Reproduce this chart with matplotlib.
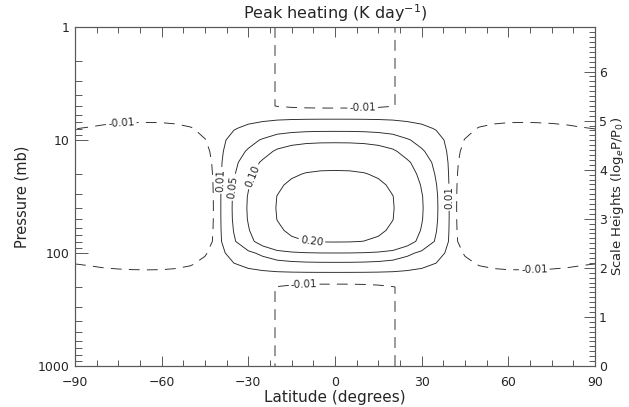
import numpy as np
import matplotlib
matplotlib.use('Agg')
import matplotlib.pyplot as plt
from matplotlib.ticker import FixedLocator, MultipleLocator, NullFormatter

# Latitude grid (degrees) and pressure levels (mb)
lat = np.array([-90, -85, -80, -75, -70, -65, -60, -55, -50, -45, -40, -35, -30,
                -25, -20, -15, -10, -5, 0, 5, 10, 15, 20, 25, 30, 35, 40, 45,
                50, 55, 60, 65, 70, 75, 80, 85, 90])
pres = np.array([1.0, 1.26, 1.58, 2.0, 2.5, 3.2, 4.0, 5.0, 6.3, 7.9, 10, 12.6,
                 15.8, 20, 25, 31.6, 40, 50, 63, 79, 100, 126, 158, 200, 251,
                 316, 398, 501, 631, 794, 1000])

# latitudinal shape of the heating anomaly
lat_shape = np.array([-0.25, -0.30, -0.38, -0.45, -0.50, -0.52, -0.50, -0.42, -0.30,
                      -0.12, 0.02, 0.22, 0.41, 0.60, 0.80, 0.91, 0.97, 0.995, 1.0,
                      0.995, 0.97, 0.91, 0.80, 0.60, 0.41, 0.22, 0.02, -0.12,
                      -0.30, -0.42, -0.50, -0.52, -0.50, -0.45, -0.38, -0.30, -0.25])
# vertical profile (K/day at the equator)
pres_shape = np.array([-0.013, -0.013, -0.013, -0.013, -0.013, -0.013, -0.013, -0.013,
                       0.005, 0.038, 0.090, 0.135, 0.180, 0.210, 0.235, 0.252, 0.256,
                       0.252, 0.235, 0.205, 0.100, 0.038, -0.002, -0.013,
                       -0.013, -0.013, -0.013, -0.013, -0.013, -0.013, -0.013])

levels = [-0.01, 0.01, 0.05, 0.10, 0.20]
label_fmt = {-0.01: '-0.01', 0.01: '0.01', 0.05: '0.05', 0.10: '0.10', 0.20: '0.20'}
label_pos = [(-74, 7.1), (9.6, 5.4), (-40, 22.6), (-35.6, 26), (-28.4, 21),
             (40, 32), (-8, 74), (69, 143), (-10.7, 183)]

heating = np.outer(pres_shape, lat_shape)

txt = '0.15'
plt.rcParams['text.color'] = txt
plt.rcParams['xtick.labelcolor'] = txt
plt.rcParams['ytick.labelcolor'] = txt
plt.rcParams['axes.labelcolor'] = txt

fig = plt.figure(figsize=(6.29, 4.07), dpi=100)
ax = fig.add_axes([75/629, 41/407, 520/629, 339/407])

# axes set up first so the contour labels are placed in screen space
ax.set_yscale('log')
ax.set_ylim(1000, 1)
ax.set_xlim(-90, 90)

cs = ax.contour(lat, pres, heating, levels=levels, colors='0.15',
                linewidths=0.65,
                linestyles=[(0, (12, 8)), 'solid', 'solid', 'solid', 'solid'])
ax.set_ylim(1000, 1)
ax.set_xlim(-90, 90)
labels = ax.clabel(cs, levels, fmt=label_fmt, manual=label_pos, inline=True,
                   inline_spacing=2, fontsize=7.5)
# vertical labels read bottom to top, as in the original
for t in labels:
    if abs(t.get_rotation() - 270) < 8:
        t.set_rotation(90)

tcol = '0.35'
ax.xaxis.set_major_locator(FixedLocator([-90, -60, -30, 0, 30, 60, 90]))
ax.xaxis.set_minor_locator(MultipleLocator(7.5))
ax.set_yticks([1, 10, 100, 1000])
ax.set_yticklabels(['1', '10', '100', '1000'])
ax.yaxis.set_minor_formatter(NullFormatter())
ax.tick_params(which='both', direction='in', top=True, right=False,
               color=tcol, width=0.7, labelsize=9)
ax.tick_params(axis='x', which='major', length=7, pad=7)
ax.tick_params(axis='x', which='minor', length=4)
ax.tick_params(axis='y', which='major', length=9, pad=4)
ax.tick_params(axis='y', which='minor', length=5)
for s in ax.spines.values():
    s.set_color(tcol)
    s.set_linewidth(0.8)

ax2 = ax.twinx()
ax2.set_ylim(0, np.log(1000))
ax2.yaxis.set_major_locator(MultipleLocator(1))
ax2.yaxis.set_minor_locator(MultipleLocator(0.1))
ax2.tick_params(which='both', direction='in', color=tcol, width=0.7, labelsize=9, pad=3)
ax2.tick_params(which='major', length=8)
ax2.tick_params(which='minor', length=4)
for s in ax2.spines.values():
    s.set_color(tcol)
    s.set_linewidth(0.8)

ax.set_title('Peak heating (K day$^{-1}$)', fontsize=11.5, pad=6)
ax.set_xlabel('Latitude (degrees)', fontsize=11, labelpad=1)
ax.set_ylabel('Pressure (mb)', fontsize=10.5, labelpad=6)
ax2.set_ylabel('Scale Heights (log$_e$P/P$_0$)', fontsize=9.5, labelpad=1)

fig.savefig('out.png', dpi=100)
